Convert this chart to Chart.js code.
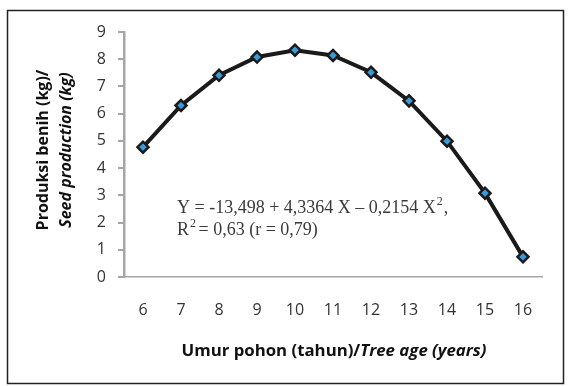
<!DOCTYPE html>
<html><head><meta charset="utf-8">
<script src="https://cdn.jsdelivr.net/npm/chart.js@4/dist/chart.umd.min.js"></script>
<style>html,body{margin:0;padding:0;background:#fff;}canvas{display:block;}</style>
</head><body>
<canvas id="c" width="571" height="386"></canvas>
<script>
const categories = ['6','7','8','9','10','11','12','13','14','15','16'];
const production = [4.77, 6.30, 7.41, 8.08, 8.33, 8.14, 7.52, 6.47, 4.99, 3.08, 0.74];
const yTicks = [0,1,2,3,4,5,6,7,8,9];
const eqLine1 = 'Y = -13,498 + 4,3364 X \u2013 0,2154 X';
const eqLine2 = ' = 0,63 (r = 0,79)';
const sansFont = '"Open Sans", sans-serif';

const annot = {
  id: 'annot',
  afterDraw(chart) {
    const ctx = chart.ctx;
    ctx.save();
    // outer frame
    ctx.strokeStyle = '#222';
    ctx.lineWidth = 1.5;
    ctx.strokeRect(7.5, 10.5, 556, 373);
    ctx.fillStyle = '#111';
    // X title (mixed styles)
    const xa = 'Umur pohon (tahun)/', xb = 'Tree age (years)';
    ctx.font = 'bold 16.8px ' + sansFont;
    const wa = ctx.measureText(xa).width;
    ctx.font = 'italic bold 16.8px ' + sansFont;
    const wb = ctx.measureText(xb).width;
    let x0 = 334 - (wa + wb) / 2;
    ctx.textBaseline = 'middle';
    ctx.textAlign = 'left';
    ctx.font = 'bold 16.8px ' + sansFont;
    ctx.fillText(xa, x0, 351);
    ctx.font = 'italic bold 16.8px ' + sansFont;
    ctx.fillText(xb, x0 + wa, 351);
    // Y title
    ctx.save();
    ctx.translate(43, 150);
    ctx.rotate(-Math.PI / 2);
    ctx.textAlign = 'center';
    ctx.font = 'bold 16px ' + sansFont;
    ctx.fillText('Produksi benih (kg)/', 0, 0);
    ctx.font = 'italic bold 16px ' + sansFont;
    ctx.fillText('Seed production (kg)', 0, 23);
    ctx.restore();
    // equation
    const big = '18px "Liberation Serif", "Times New Roman", serif';
    const small = '12px "Liberation Serif", "Times New Roman", serif';
    ctx.font = big;
    ctx.fillStyle = '#3a3a3a';
    ctx.textAlign = 'left';
    ctx.textBaseline = 'alphabetic';
    const ex = 177;
    ctx.fillText(eqLine1, ex, 213);
    let w1 = ctx.measureText(eqLine1).width;
    ctx.font = small;
    ctx.fillText('2', ex + w1 + 1, 205);
    ctx.font = big;
    ctx.fillText(',', ex + w1 + 8, 213);
    ctx.fillText('R', ex, 235);
    const wr = ctx.measureText('R').width;
    ctx.font = small;
    ctx.fillText('2', ex + wr + 1, 227);
    ctx.font = big;
    ctx.fillText(eqLine2, ex + wr + 5, 235);
    ctx.restore();
  }
};

new Chart(document.getElementById('c'), {
  type: 'line',
  data: {
    labels: categories,
    datasets: [{
      data: production,
      borderColor: '#1a1a1a',
      borderWidth: 4,
      tension: 0,
      pointStyle: 'rectRot',
      pointRadius: 5.5,
      pointBackgroundColor: '#3c9ad8',
      pointBorderColor: '#1a1a1a',
      pointBorderWidth: 2.5,
      fill: false
    }]
  },
  options: {
    responsive: false,
    animation: false,
    events: [],
    layout: { padding: { left: 0, top: 32, right: 29, bottom: 0 } },
    plugins: { legend: { display: false }, tooltip: { enabled: false }, title: { display: false } },
    scales: {
      x: {
        offset: true,
        grid: { display: false, drawTicks: false },
        border: { display: true, color: '#a6a6a6', width: 1.5 },
        ticks: { color: '#333', font: { family: sansFont, size: 16 }, padding: 24, maxRotation: 0 },
        afterFit(s) { s.height = 109; }
      },
      y: {
        min: 0, max: 9,
        afterBuildTicks(s) { s.ticks = yTicks.map(v => ({ value: v })); },
        grid: { display: true, drawOnChartArea: false, drawTicks: true, tickLength: 6, color: '#a6a6a6', lineWidth: 2 },
        border: { display: true, color: '#a6a6a6', width: 2.5 },
        ticks: { color: '#333', font: { family: sansFont, size: 16 }, padding: 12 },
        afterFit(s) { s.width = 124; }
      }
    }
  },
  plugins: [annot]
});
</script>
</body></html>
